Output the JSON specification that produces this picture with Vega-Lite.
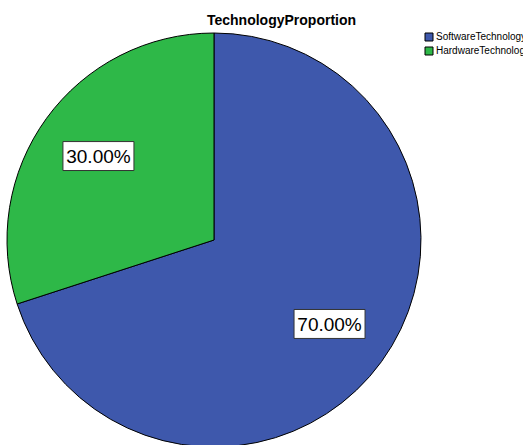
{
  "$schema": "https://vega.github.io/schema/vega-lite/v6.json",
  "width": 523,
  "height": 445,
  "autosize": "none",
  "padding": 0,
  "background": "white",
  "title": {"text": "TechnologyProportion", "frame": "group", "anchor": "middle", "dx": 20, "offset": -28, "fontSize": 14, "font": "Liberation Sans", "fontWeight": "bold", "color": "black"},
  "data": {"values": [
    {"Technology": "SoftwareTechnology", "Share": 0.7},
    {"Technology": "HardwareTechnology", "Share": 0.3}
  ]},
  "config": {"view": {"stroke": null}},
  "encoding": {
    "x": {"type": "quantitative", "scale": {"domain": [-1.0338, 1.4928], "nice": false, "zero": false}, "axis": null},
    "y": {"type": "quantitative", "scale": {"domain": [-0.9903, 1.1594], "nice": false, "zero": false}, "axis": null}
  },
  "layer": [
    {
      "mark": {"type": "arc", "outerRadius": 207, "stroke": "black", "strokeWidth": 1},
      "encoding": {
        "x": {"datum": 0, "type": "quantitative"},
        "y": {"datum": 0, "type": "quantitative"},
        "theta": {"field": "Share", "type": "quantitative", "stack": true},
        "order": {"field": "Share", "type": "quantitative", "sort": "descending"},
        "color": {
          "field": "Technology", "type": "nominal",
          "scale": {"domain": ["SoftwareTechnology", "HardwareTechnology"], "range": ["#3E58AC", "#2EB848"]},
          "legend": {"title": null, "orient": "none", "legendX": 424, "legendY": 32, "symbolType": "square", "symbolSize": 64, "symbolStrokeColor": "black", "symbolStrokeWidth": 1, "symbolOpacity": 1, "labelFont": "Liberation Sans", "labelFontSize": 10, "labelColor": "black", "rowPadding": 2, "labelOffset": 2, "padding": 0}
        }
      }
    },
    {
      "transform": [
        {"window": [{"op": "sum", "field": "Share", "as": "cum"}], "sort": [{"field": "Share", "order": "descending"}], "frame": [null, 0]},
        {"calculate": "2*PI*(datum.cum - datum.Share/2)", "as": "mid"},
        {"calculate": "0.69*sin(datum.mid)", "as": "lx"},
        {"calculate": "0.69*cos(datum.mid)", "as": "ly"}
      ],
      "encoding": {
        "x": {"field": "lx", "type": "quantitative"},
        "y": {"field": "ly", "type": "quantitative"}
      },
      "layer": [
        {"mark": {"type": "point", "shape": "M-1,-0.408H1V0.408H-1Z", "size": 5041, "filled": true, "fill": "white", "stroke": "#333333", "strokeWidth": 1, "opacity": 1}},
        {"mark": {"type": "text", "font": "Liberation Sans", "fontSize": 19, "color": "black", "baseline": "middle", "dy": 1},
         "encoding": {"text": {"field": "Share", "type": "quantitative", "format": ".2%"}}}
      ]
    }
  ]
}
